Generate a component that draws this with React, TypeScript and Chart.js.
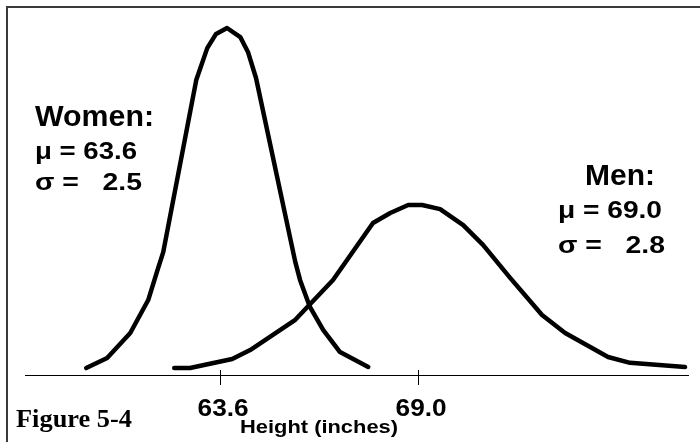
import React, { useEffect, useRef } from "react";
import { Chart, registerables } from "chart.js";

Chart.register(...registerables);

// ---- data (heights in inches, relative frequency) ----
const womenHeights = [59.95, 60.52, 61.15, 61.64, 61.91, 62.05, 62.95, 63.25, 63.49, 63.79, 64.15, 64.36, 64.58, 65.65, 65.78, 66.05, 66.41, 66.87, 67.64];
const womenFreq = [0.02, 0.049, 0.121, 0.216, 0.308, 0.354, 0.85, 0.942, 0.983, 1.0, 0.974, 0.931, 0.856, 0.326, 0.274, 0.196, 0.13, 0.066, 0.023];
const menHeights = [62.35, 62.78, 63.93, 64.42, 65.65, 66.68, 67.77, 68.24, 68.73, 69.11, 69.6, 70.23, 70.77, 71.51, 72.38, 73.01, 74.18, 74.78, 76.28];
const menFreq = [0.02, 0.02, 0.046, 0.072, 0.159, 0.274, 0.438, 0.467, 0.49, 0.49, 0.478, 0.432, 0.375, 0.28, 0.173, 0.121, 0.052, 0.035, 0.023];
const tickValues = [63.6, 69.0];
const tickLabels = ["63.6", "69.0"];
const womenMean = 63.6;
const womenSd = 2.5;
const menMean = 69.0;
const menSd = 2.8;
const axisTitle = "Height (inches)";
const figureLabel = "Figure 5-4";

const SANS = '"Liberation Sans", Arial, sans-serif';
const SERIF = '"Liberation Serif", "Times New Roman", serif';

function drawStretched(
  ctx: CanvasRenderingContext2D,
  text: string,
  x: number,
  baseline: number,
  font: string,
  targetWidth: number,
  align: "left" | "center" = "left"
) {
  ctx.save();
  ctx.font = font;
  ctx.textBaseline = "alphabetic";
  ctx.textAlign = "left";
  const w = ctx.measureText(text).width;
  const sx = targetWidth / w;
  const left = align === "center" ? x - targetWidth / 2 : x;
  ctx.translate(left, baseline);
  ctx.scale(sx, 1);
  ctx.fillStyle = "#000";
  ctx.fillText(text, 0, 0);
  ctx.restore();
}

const decorPlugin = {
  id: "decor",
  afterDraw(chart: any) {
    const ctx: CanvasRenderingContext2D = chart.ctx;
    const xs = chart.scales.x;
    const bottom = chart.chartArea.bottom;

    // frame
    ctx.save();
    ctx.strokeStyle = "#3a3a3a";
    ctx.lineWidth = 2;
    ctx.beginPath();
    ctx.moveTo(7, chart.height);
    ctx.lineTo(7, 7);
    ctx.lineTo(chart.width, 7);
    ctx.stroke();

    // tick marks
    ctx.strokeStyle = "#000";
    ctx.lineWidth = 1;
    tickValues.forEach((v) => {
      const px = Math.round(xs.getPixelForValue(v)) + 0.5;
      ctx.beginPath();
      ctx.moveTo(px, bottom - 5);
      ctx.lineTo(px, bottom + 10);
      ctx.stroke();
    });
    ctx.restore();

    // tick labels
    tickValues.forEach((v, i) => {
      const px = xs.getPixelForValue(v);
      drawStretched(ctx, tickLabels[i], px + 3, bottom + 41, `bold 24px ${SANS}`, 51, "center");
    });

    drawStretched(ctx, axisTitle, 240, bottom + 58, `bold 19px ${SANS}`, 158);
    drawStretched(ctx, figureLabel, 16, bottom + 52, `bold 25px ${SERIF}`, 116);

    // Women annotation
    drawStretched(ctx, "Women:", 35, 126, `bold 29px ${SANS}`, 119);
    drawStretched(ctx, `\u03bc = ${womenMean.toFixed(1)}`, 35, 159, `bold 24px ${SANS}`, 102);
    drawStretched(ctx, `\u03c3 =   ${womenSd.toFixed(1)}`, 35, 190, `bold 24px ${SANS}`, 107);

    // Men annotation
    drawStretched(ctx, "Men:", 585, 185, `bold 29px ${SANS}`, 70);
    drawStretched(ctx, `\u03bc = ${menMean.toFixed(1)}`, 558, 218, `bold 24px ${SANS}`, 104);
    drawStretched(ctx, `\u03c3 =   ${menSd.toFixed(1)}`, 558, 253, `bold 24px ${SANS}`, 107);
  },
};

export default function App() {
  const canvasRef = useRef<HTMLCanvasElement | null>(null);

  useEffect(() => {
    if (!canvasRef.current) return;
    const lineStyle = {
      borderColor: "#000",
      borderWidth: 4.5,
      pointRadius: 0,
      tension: 0,
      fill: false,
      borderCapStyle: "round" as const,
      borderJoinStyle: "round" as const,
      clip: false as any,
    };
    const chart = new Chart(canvasRef.current, {
      type: "line",
      data: {
        datasets: [
          {
            label: "Women",
            data: womenHeights.map((h, i) => ({ x: h, y: womenFreq[i] })),
            ...lineStyle,
          },
          {
            label: "Men",
            data: menHeights.map((h, i) => ({ x: h, y: menFreq[i] })),
            ...lineStyle,
          },
        ],
      },
      options: {
        animation: false,
        responsive: true,
        maintainAspectRatio: false,
        layout: { padding: { left: 25, right: 12, top: 10.65, bottom: 0 } },
        plugins: {
          legend: { display: false },
          tooltip: { enabled: false },
          title: { display: false },
        },
        scales: {
          x: {
            type: "linear",
            min: 58.28,
            max: 76.36,
            afterBuildTicks: (s: any) => {
              s.ticks = tickValues.map((v) => ({ value: v }));
            },
            afterFit: (s: any) => {
              s.height = 67;
            },
            ticks: { display: false },
            grid: { display: false },
            border: { display: true, color: "#000", width: 1 },
          },
          y: {
            type: "linear",
            min: 0,
            max: 1.05,
            display: false,
          },
        },
      },
      plugins: [decorPlugin],
    });
    return () => chart.destroy();
  }, []);

  return (
    <div style={{ position: "absolute", left: 0, top: 0, width: 700, height: 442, background: "#fff" }}>
      <canvas ref={canvasRef} />
    </div>
  );
}
